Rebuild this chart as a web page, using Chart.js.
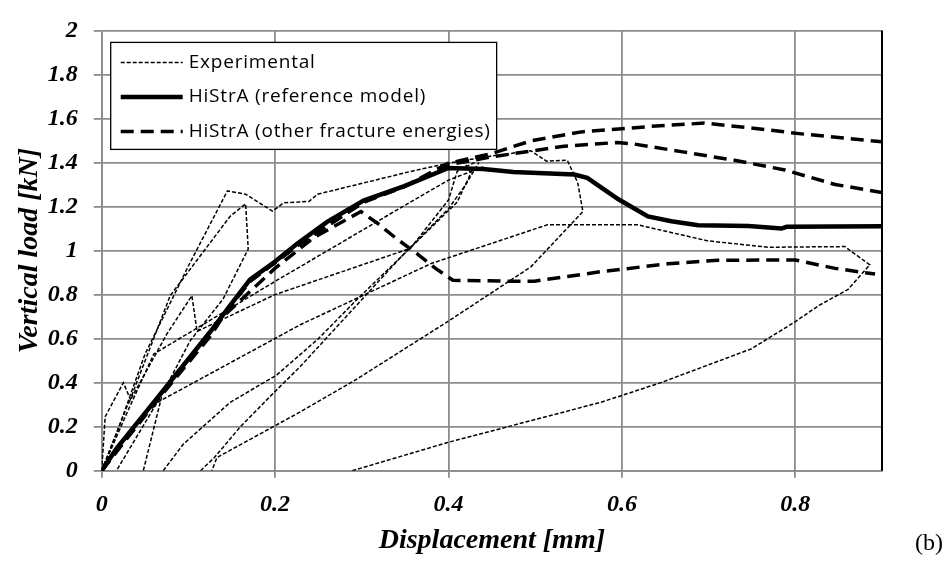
<!DOCTYPE html>
<html>
<head>
<meta charset="utf-8">
<script src="https://cdn.jsdelivr.net/npm/chart.js@4.4.1/dist/chart.umd.min.js"></script>
<style>
  body { margin: 0; background: #fff; }
  canvas { display: block; }
</style>
</head>
<body>
<canvas id="loadChart" width="945" height="577"></canvas>
<script>
// axis ticks
const xTicks = [0, 0.2, 0.4, 0.6, 0.8];
const yTicks = [0, 0.2, 0.4, 0.6, 0.8, 1, 1.2, 1.4, 1.6, 1.8, 2];

// legend labels
const legendLabels = ["Experimental", "HiStrA (reference model)", "HiStrA (other fracture energies)"];

// experimental curves [displacement mm, load kN]
const exp1 = [[0,0],[0.02,0.2],[0.05,0.53],[0.1,0.93],[0.145,1.271],[0.166,1.256],[0.197,1.179],[0.21,1.217],[0.239,1.223],[0.249,1.256],[0.356,1.359],[0.4,1.397],[0.45,1.43],[0.495,1.453],[0.513,1.406],[0.537,1.41],[0.549,1.309],[0.555,1.177],[0.495,0.926],[0.399,0.677],[0.291,0.408],[0.229,0.267],[0.133,0.06],[0.127,0]];
const exp2 = [[0,0],[0.004,0.245],[0.025,0.4],[0.033,0.325],[0.079,0.795],[0.148,1.155],[0.166,1.212],[0.169,1.007],[0.14,0.78],[0.102,0.59],[0.07,0.35],[0.048,0]];
const exp3 = [[0,0],[0.03,0.3],[0.075,0.62],[0.104,0.795],[0.11,0.633],[0.2,0.8],[0.356,1.01],[0.4,1.23],[0.41,1.36],[0.43,1.4]];
const exp4 = [[0.071,0],[0.094,0.12],[0.148,0.31],[0.202,0.435],[0.25,0.6],[0.295,0.78],[0.345,0.97],[0.41,1.22],[0.426,1.353],[0.418,1.4]];
const exp5 = [[0.114,0],[0.13,0.06],[0.16,0.2],[0.2,0.36],[0.229,0.473],[0.345,0.97],[0.4,1.19],[0.42,1.3],[0.435,1.4]];
const exp6 = [[0,0],[0.03,0.27],[0.06,0.53],[0.2,0.86],[0.356,1.22],[0.4,1.32],[0.44,1.38]];
const exp7 = [[0.289,0],[0.399,0.128],[0.576,0.311],[0.645,0.4],[0.749,0.553],[0.8,0.677],[0.827,0.75],[0.861,0.824],[0.886,0.935],[0.857,1.018],[0.769,1.015],[0.699,1.044],[0.618,1.117],[0.514,1.117],[0.38,0.941],[0.229,0.663],[0.202,0.605],[0.064,0.31],[0.017,0]];

// HiStrA reference model
const refModel = [[0,0],[0.017,0.1],[0.06,0.31],[0.125,0.63],[0.148,0.75],[0.171,0.868],[0.2,0.95],[0.225,1.03],[0.26,1.13],[0.302,1.227],[0.349,1.293],[0.4,1.375],[0.44,1.37],[0.475,1.357],[0.545,1.345],[0.56,1.33],[0.596,1.233],[0.63,1.155],[0.657,1.133],[0.688,1.115],[0.746,1.112],[0.784,1.1],[0.79,1.108],[0.9,1.11]];

// HiStrA other fracture energies
const otherA = [[0,0],[0.06,0.31],[0.125,0.63],[0.171,0.86],[0.225,1.02],[0.302,1.22],[0.349,1.29],[0.399,1.396],[0.449,1.44],[0.495,1.498],[0.553,1.539],[0.634,1.564],[0.695,1.579],[0.749,1.557],[0.807,1.53],[0.9,1.494]];
const otherB = [[0,0],[0.06,0.31],[0.125,0.63],[0.171,0.86],[0.225,1.02],[0.302,1.22],[0.349,1.29],[0.4,1.39],[0.449,1.425],[0.533,1.474],[0.595,1.491],[0.614,1.484],[0.672,1.447],[0.73,1.41],[0.788,1.366],[0.846,1.3],[0.9,1.264]];
const otherC = [[0,0],[0.06,0.3],[0.125,0.61],[0.14,0.7],[0.2,0.92],[0.245,1.06],[0.299,1.177],[0.318,1.124],[0.341,1.051],[0.364,0.985],[0.385,0.919],[0.405,0.865],[0.468,0.861],[0.499,0.861],[0.576,0.904],[0.653,0.94],[0.711,0.956],[0.8,0.957],[0.846,0.919],[0.892,0.893]];

const serif = "'Liberation Serif', 'Times New Roman', serif";
const sans = "'Open Sans', 'Noto Sans', sans-serif";

const expStyle = { borderColor: "#000", borderWidth: 1.5, borderDash: [4, 2] };
const refStyle = { borderColor: "#000", borderWidth: 4.5, borderDash: [] };
const otherStyle = { borderColor: "#000", borderWidth: 3.5, borderDash: [13, 7] };

function toPoints(arr) {
  return arr.map(p => ({ x: p[0], y: p[1] }));
}

function makeSet(label, arr, style, order) {
  return Object.assign({
    label: label,
    data: toPoints(arr),
    pointRadius: 0,
    fill: false,
    tension: 0,
    order: order
  }, style);
}

const datasets = [];
[exp1, exp2, exp3, exp4, exp5, exp6, exp7].forEach(a => datasets.push(makeSet(legendLabels[0], a, expStyle, 3)));
[otherA, otherB, otherC].forEach(a => datasets.push(makeSet(legendLabels[2], a, otherStyle, 2)));
datasets.push(makeSet(legendLabels[1], refModel, refStyle, 1));

function fmt(v) {
  return String(Number(v.toFixed(1)));
}

// legend box inside the plot + frame line + panel tag
const decorPlugin = {
  id: "decor",
  afterDraw(chart) {
    const c = chart.ctx;
    const a = chart.chartArea;
    c.save();
    // right frame line
    c.strokeStyle = "#000";
    c.lineWidth = 2;
    c.beginPath();
    c.moveTo(a.right, a.top);
    c.lineTo(a.right, a.bottom);
    c.stroke();

    // legend
    const styles = [expStyle, refStyle, otherStyle];
    c.font = "19px " + sans;
    c.letterSpacing = "0.8px";
    let tw = 0;
    legendLabels.forEach(t => { tw = Math.max(tw, c.measureText(t).width); });
    const bx = a.left + 9, by = a.top + 12;
    const bw = 78 + tw + 6, bh = 107;
    c.fillStyle = "#fff";
    c.fillRect(bx, by, bw, bh);
    c.strokeStyle = "#000";
    c.lineWidth = 1.3;
    c.strokeRect(bx, by, bw, bh);
    legendLabels.forEach((t, i) => {
      const ry = by + 20 + i * 34.5;
      const s = styles[i];
      c.strokeStyle = s.borderColor;
      c.lineWidth = s.borderWidth;
      c.setLineDash(s.borderDash);
      c.beginPath();
      c.moveTo(bx + 10, ry);
      c.lineTo(bx + 72, ry);
      c.stroke();
      c.setLineDash([]);
      c.fillStyle = "#000";
      c.textBaseline = "middle";
      c.textAlign = "left";
      c.fillText(t, bx + 78, ry);
    });
    c.letterSpacing = "0px";

    // panel tag
    c.font = "24px " + serif;
    c.textAlign = "right";
    c.textBaseline = "alphabetic";
    c.fillStyle = "#000";
    c.fillText("(b)", 943, 550);
    c.restore();
  }
};

const tickFont = { family: serif, size: 24, style: "italic", weight: "bold" };
const titleFont = { family: serif, size: 28, style: "italic", weight: "bold" };
const gridGray = "#8c8c8c";

new Chart(document.getElementById("loadChart"), {
  type: "line",
  data: { datasets: datasets },
  options: {
    responsive: false,
    animation: false,
    layout: { padding: { top: 16, right: 63, left: 0, bottom: 0 } },
    plugins: {
      legend: { display: false },
      tooltip: { enabled: false }
    },
    scales: {
      x: {
        type: "linear",
        min: 0,
        max: 0.9,
        afterFit: s => { s.height = 106.3; },
        afterBuildTicks: s => { s.ticks = xTicks.map(v => ({ value: v })); },
        ticks: { font: tickFont, color: "#000", padding: 13, maxRotation: 0, callback: fmt },
        grid: { color: gridGray, lineWidth: 1.8, tickLength: 7, tickColor: gridGray },
        border: { color: gridGray, width: 1.8 },
        title: {
          display: true,
          text: "Displacement [mm]",
          color: "#000",
          font: titleFont,
          padding: { top: 0, bottom: 19 }
        }
      },
      y: {
        type: "linear",
        min: 0,
        max: 2,
        afterFit: s => { s.width = 101.7; },
        afterBuildTicks: s => { s.ticks = yTicks.map(v => ({ value: v })); },
        ticks: { font: tickFont, color: "#000", padding: 16, callback: fmt },
        grid: { color: gridGray, lineWidth: 1.8, tickLength: 8, tickColor: gridGray },
        border: { color: gridGray, width: 1.8 },
        title: {
          display: true,
          text: "Vertical load [kN]",
          color: "#000",
          font: titleFont,
          padding: { top: 13, bottom: 0 }
        }
      }
    }
  },
  plugins: [decorPlugin]
});
</script>
</body>
</html>
